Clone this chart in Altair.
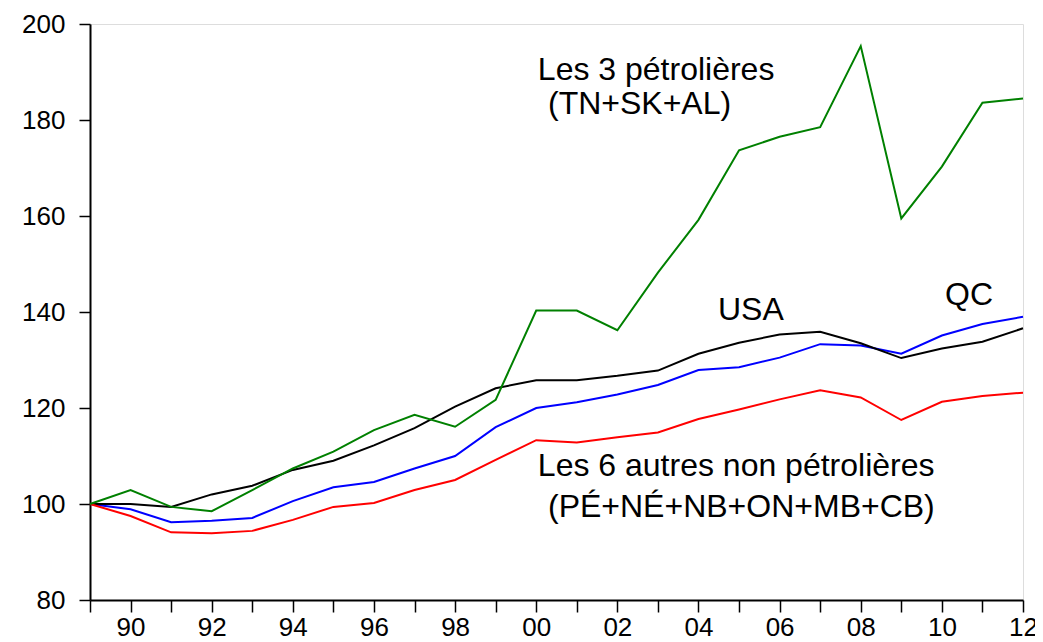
import altair as alt
import pandas as pd

years = list(range(1989, 2013))

qc = [100.0, 98.9, 96.2, 96.5, 97.1, 100.6, 103.5, 104.6, 107.4, 110.0, 116.0, 120.0,
      121.2, 122.8, 124.8, 127.9, 128.5, 130.5, 133.3, 133.0, 131.3, 135.1, 137.5, 139.0]
usa = [100.0, 100.0, 99.4, 102.0, 103.8, 107.1, 109.0, 112.2, 115.8, 120.3, 124.1, 125.8,
       125.8, 126.7, 127.8, 131.3, 133.6, 135.3, 135.9, 133.5, 130.4, 132.4, 133.8, 136.6]
petrol = [100.0, 102.9, 99.4, 98.5, 102.9, 107.4, 110.9, 115.4, 118.6, 116.1, 121.7, 140.3,
          140.3, 136.2, 148.2, 159.2, 173.7, 176.5, 178.5, 195.4, 159.5, 170.3, 183.6, 184.5]
autres = [100.0, 97.5, 94.1, 93.9, 94.4, 96.7, 99.4, 100.2, 102.9, 105.0, 109.2, 113.3,
          112.8, 113.9, 114.9, 117.7, 119.7, 121.8, 123.7, 122.2, 117.5, 121.3, 122.5, 123.2]

series_names = ["QC", "USA", "Les 6 autres", "Les 3 pétrolières"]
series_colors = ["#0000FF", "#000000", "#FF0000", "#008000"]

y_ticks = [80, 100, 120, 140, 160, 180, 200]

ann_text = ["Les 3 pétrolières", "(TN+SK+AL)", "USA", "QC",
            "Les 6 autres non pétrolières", "(PÉ+NÉ+NB+ON+MB+CB)"]
ann_x = [2000.04, 2000.29, 2004.48, 2010.08, 2000.04, 2000.29]
ann_y = [188.3, 181.3, 138.3, 141.5, 105.8, 97.3]

rows = []
for name, vals in zip(series_names, [qc, usa, autres, petrol]):
    for yr, v in zip(years, vals):
        rows.append({"year": yr, "value": v, "series": name})
df = pd.DataFrame(rows)

ann = pd.DataFrame({"text": ann_text, "x": ann_x, "y": ann_y})

FONT = "Liberation Sans"

x_scale = alt.Scale(domain=[1989, 2012], nice=False, zero=False)
y_scale = alt.Scale(domain=[80, 200], nice=False, zero=False)

lines = alt.Chart(df).mark_line(strokeWidth=2).encode(
    x=alt.X("year:Q", scale=x_scale, title=None,
            axis=alt.Axis(values=years, tickSize=12, tickColor="black", tickWidth=1.5,
                          domainColor="black", domainWidth=2, grid=False,
                          labelFontSize=26, labelFont=FONT, labelColor="black",
                          labelPadding=2, labelFlush=False, labelOverlap=False,
                          labelExpr="datum.value % 2 == 0 ? substring(toString(datum.value), 2) : ''")),
    y=alt.Y("value:Q", scale=y_scale, title=None,
            axis=alt.Axis(values=y_ticks, tickSize=11, tickColor="black", tickWidth=1.5,
                          domainColor="black", domainWidth=2, grid=False,
                          labelFontSize=26, labelFont=FONT, labelColor="black",
                          labelPadding=14, labelFlush=False)),
    color=alt.Color("series:N", scale=alt.Scale(domain=series_names, range=series_colors),
                    legend=None),
    order=alt.Order("year:Q"),
)

texts = alt.Chart(ann).mark_text(
    align="left", baseline="alphabetic", font=FONT, fontSize=32, color="black"
).encode(
    x=alt.X("x:Q", scale=x_scale),
    y=alt.Y("y:Q", scale=y_scale),
    text="text:N",
)

chart = alt.layer(lines, texts).properties(
    width=933, height=576,
    autosize=alt.AutoSizeParams(type="none"),
    padding={"left": 82, "top": 16, "right": 12, "bottom": 42},
).configure_view(stroke="black", strokeWidth=2).configure(background="white")

chart.save("out.html", embed_options={"renderer": "svg", "actions": False})
